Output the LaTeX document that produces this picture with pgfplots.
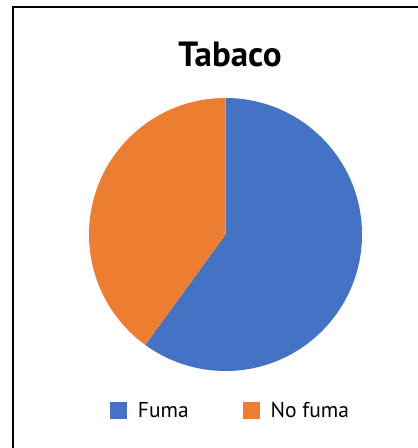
\documentclass[border=0pt]{standalone}
\usepackage{pgfplots}
\usepackage{pgfplotstable}
\usepackage{fontspec}
\setmainfont{PT Sans}
\pgfplotsset{compat=1.18}

\definecolor{fumablue}{HTML}{4472C4}
\definecolor{nofumaorange}{HTML}{ED7D31}

\pgfplotstableread{
grupo valor
Fuma 60
NoFuma 40
}\tabaco

\begin{document}
\begin{tikzpicture}
\pgfplotstablegetelem{0}{valor}\of\tabaco \pgfmathsetmacro\fuma{\pgfplotsretval}
\pgfplotstablegetelem{1}{valor}\of\tabaco \pgfmathsetmacro\nofuma{\pgfplotsretval}
\pgfmathsetmacro\total{\fuma+\nofuma}
\pgfmathsetmacro\corte{90-360*(\fuma/\total)}
\useasboundingbox (0,0) rectangle (418pt,448pt);
% chart frame (runs past right and bottom edge)
\draw[line width=2pt] (13pt,-20pt) -- (13pt,441pt) -- (440pt,441pt);
\begin{axis}[
    x=1pt, y=1pt,
    xmin=0, xmax=418, ymin=0, ymax=448,
    anchor=origin, at={(0,0)},
    hide axis, clip=false,
    legend columns=2,
    legend style={draw=none, fill=none,
        at={(0.5514,0.0826)}, anchor=center,
        font=\fontsize{21.5}{24}\selectfont,
        /tikz/every odd column/.append style={column sep=9pt},
        /tikz/every even column/.append style={column sep=52pt}},
    legend image code/.code={\path[fill, draw=none] (0pt,-8.5pt) rectangle (17pt,8.5pt);},
]
\addlegendimage{fill=fumablue, draw=none}
\addlegendentry{Fuma}
\addlegendimage{fill=nofumaorange, draw=none}
\addlegendentry{No fuma}

\fill[fumablue] (axis cs:225.5,213.5) -- (axis cs:225.5,350)
    arc[start angle=90, end angle=\corte, radius=136.5pt] -- cycle;
\fill[nofumaorange] (axis cs:225.5,213.5) -- (axis cs:225.5,350)
    arc[start angle=90, end angle=\corte+360, radius=136.5pt] -- cycle;

\node[anchor=base, font=\fontsize{35}{38}\selectfont\bfseries]
    at (axis cs:230,381) {Tabaco};
\end{axis}
\end{tikzpicture}
\end{document}
